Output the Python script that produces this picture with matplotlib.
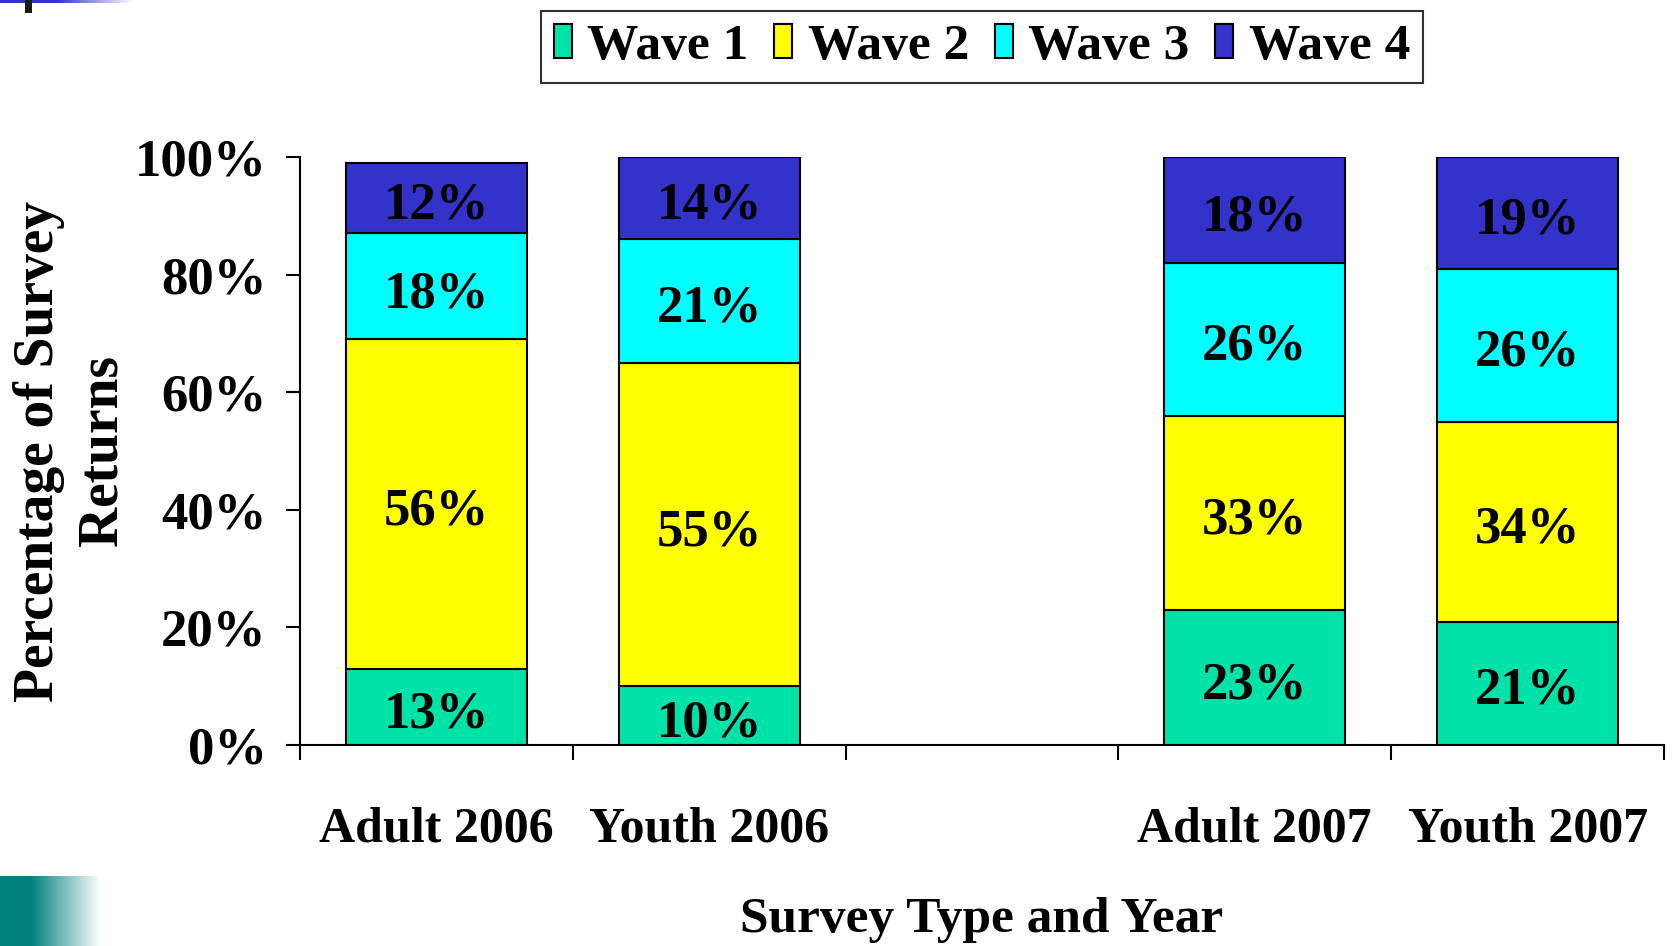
import matplotlib
matplotlib.use("Agg")
import matplotlib.pyplot as plt
import numpy as np

plt.rcParams['font.family'] = ['Liberation Serif', 'DejaVu Serif']
plt.rcParams['font.weight'] = 'bold'

# data
categories = ["Adult 2006", "Youth 2006", "", "Adult 2007", "Youth 2007"]
wave_names = ["Wave 1", "Wave 2", "Wave 3", "Wave 4"]
wave1 = [13, 10, 0, 23, 21]
wave2 = [56, 55, 0, 33, 34]
wave3 = [18, 21, 0, 26, 26]
wave4 = [12, 14, 0, 18, 19]
colors = ["#00E3A8", "#FFFF00", "#00FFFF", "#3333CC"]

W, H = 1673, 946
fig = plt.figure(figsize=(W / 100, H / 100), dpi=100)
ax = fig.add_axes([300 / W, 1 - 745 / H, (1664 - 300) / W, (745 - 157) / H])

x = np.arange(1, len(categories) + 1)
bw = 0.664
bottom = np.zeros(len(categories))
for name, vals, col in zip(wave_names, [wave1, wave2, wave3, wave4], colors):
    vals = np.array(vals, dtype=float)
    mask = vals > 0
    ax.bar(x[mask], vals[mask], bw, bottom=bottom[mask], color=col,
           edgecolor="black", linewidth=1.5, label=name, zorder=2)
    for xi, v, b in zip(x[mask], vals[mask], bottom[mask]):
        ax.text(xi, b + v / 2 - 1.3, f"{int(v)}%", ha="center", va="center",
                fontsize=38, fontweight="bold", zorder=3)
    bottom = bottom + vals

ax.set_xlim(0.5, len(categories) + 0.5)
ax.set_ylim(0, 100)
ax.set_yticks(np.arange(0, 101, 20))
ax.set_yticklabels([f"{v}%" for v in range(0, 101, 20)], fontsize=38)
ax.tick_params(axis="y", length=10, width=1.5, pad=14)

ax.set_xticks(x)
ax.set_xticklabels(categories, fontsize=36)
ax.tick_params(axis="x", which="major", length=0, pad=44)
ax.set_xticks(np.arange(0.5, len(categories) + 1, 1), minor=True)
ax.tick_params(axis="x", which="minor", length=11, width=1.5)

for s in ["top", "right"]:
    ax.spines[s].set_visible(False)
for s in ["left", "bottom"]:
    ax.spines[s].set_linewidth(1.5)

fig.text(0.5 * (300 + 1664) / W, 1 - 862 * 1.067 / H, "Survey Type and Year",
         ha="center", va="center", fontsize=37, fontweight="bold")
fig.text(71 / W, 1 - 451 / H, "Percentage of Survey\nReturns", rotation=90,
         ha="center", va="center", fontsize=40, fontweight="bold", linespacing=1.3)

leg = fig.legend(loc="center", bbox_to_anchor=(982 / W, 1 - 47 / H), ncol=4,
                 fontsize=37, frameon=True, fancybox=False, edgecolor="black",
                 handlelength=0.35, handleheight=0.65, handletextpad=0.3,
                 columnspacing=0.5, borderpad=0.25)
leg.get_frame().set_linewidth(1.5)

# decorative slide elements
top = fig.add_axes([0, 1 - 3 / H, 133 / W, 3 / H])
g = np.ones((1, 133, 3))
blue = np.array([0.2, 0.2, 0.8])
for i in range(133):
    t = 0 if i < 56 else (i - 56) / 77
    g[0, i] = blue * (1 - t) + t
top.imshow(g, aspect="auto")
top.axis("off")
blk = fig.add_axes([25 / W, 1 - 13 / H, 7 / W, 13 / H])
blk.set_facecolor("#1a1a1a")
blk.set_xticks([]); blk.set_yticks([])
for s in blk.spines.values():
    s.set_visible(False)

bot = fig.add_axes([0, 0, 100 / W, 70 / H])
teal = np.array([0.0, 0.5, 0.5])
g2 = np.ones((1, 100, 3))
for i in range(100):
    t = 0 if i < 30 else (i - 30) / 70
    g2[0, i] = teal * (1 - t) + t
bot.imshow(g2, aspect="auto")
bot.axis("off")

fig.savefig("out.png", dpi=100)
